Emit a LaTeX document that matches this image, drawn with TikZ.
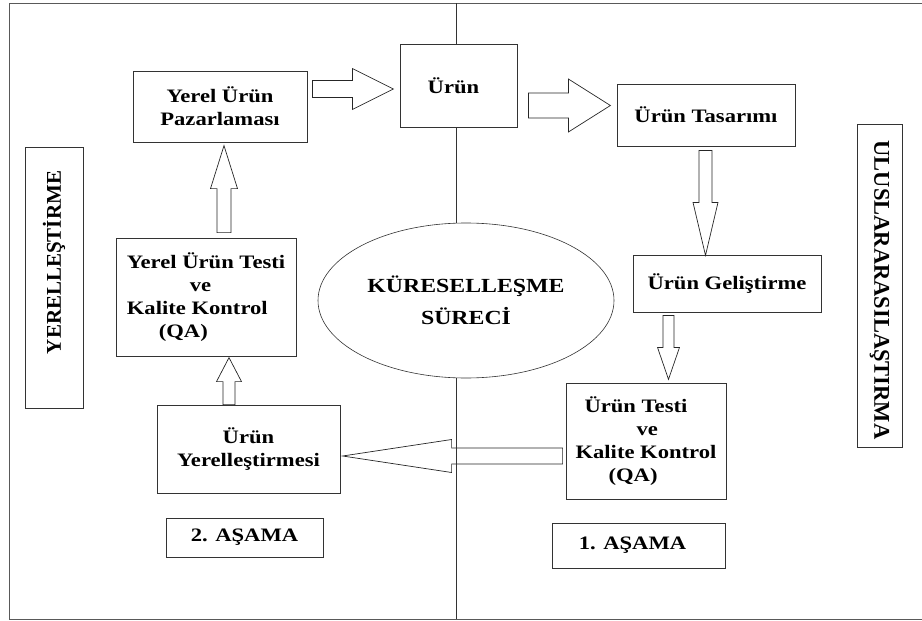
\documentclass[tikz,border=0pt]{standalone}
\usepackage{fontspec}
\setmainfont{Liberation Serif}[FakeStretch=1.19]
\newfontfamily\sidefont{Liberation Serif}
\usetikzlibrary{shapes.geometric}

% tail, angle, length, shaft half width, head half width, head length
\newcommand{\fatarrow}[6]{%
  \draw[fatline, shift={(#1)}, rotate=#2] (0,#4) -- (#3-#6,#4) -- (#3-#6,#5) -- (#3,0)
    -- (#3-#6,-#5) -- (#3-#6,-#4) -- (0,-#4) -- cycle;}

\begin{document}
\begin{tikzpicture}[x=1pt, y=-1pt,
  box/.style={draw=black!80, line width=0.8pt, fill=white, inner sep=0pt, align=center,
    font=\bfseries\fontsize{19}{23}\selectfont},
  sidebox/.style={box, font=\sidefont\bfseries\fontsize{#1}{24}\selectfont},
  fatline/.style={draw=black!85, line width=0.7pt, fill=white, line join=miter},
  frame/.style={draw=black!65, line width=1pt}]
\useasboundingbox (0,0) rectangle (922,621);
\draw[frame] (922,3) -- (9,3) -- (9,619) -- (922,619);

% boxes
\node[box, minimum width=117pt, minimum height=83pt] (urun) at (458.5,85.5) {Ürün\hspace*{10pt}};
\node[box, minimum width=174pt, minimum height=71pt] (pazar) at (220,106.5) {Yerel Ürün\\Pazarlaması};
\node[box, minimum width=178pt, minimum height=62pt] (tasarim) at (706,115) {Ürün Tasarımı};
\node[box, minimum width=188pt, minimum height=57pt] (gelis) at (727,283.5) {Ürün Geliştirme};
\node[box, minimum width=160pt, minimum height=116pt, align=left] (testi) at (646,441)
  {\hspace*{9pt}Ürün Testi\\\hspace*{61pt}ve\\Kalite Kontrol\\\hspace*{33pt}(QA)};
\node[box, minimum width=180pt, minimum height=118pt, align=left] (yertest) at (206,297)
  {Yerel Ürün Testi\\\hspace*{63pt}ve\\Kalite Kontrol\\\hspace*{32pt}(QA)};
\node[box, minimum width=183pt, minimum height=88pt] (yerles) at (248.5,449) {Ürün\\Yerelleştirmesi};
\node[box, minimum width=157pt, minimum height=39pt] (asama2) at (244.5,537.5) {2. AŞAMA};
\node[box, minimum width=173pt, minimum height=45pt] (asama1) at (638.5,545.5) {1. AŞAMA\hspace*{12pt}};
\node[sidebox=21, rotate=90, minimum width=261pt, minimum height=58pt] (yerel) at (54,277.5)
  {\hspace*{30pt}YERELLEŞTİRME};
\node[sidebox=22.5, rotate=-90, minimum width=323pt, minimum height=45pt] (ulus) at (879.5,285.5)
  {\hspace*{9pt}ULUSLARARASILAŞTIRMA};
\node[box, ellipse, line width=0.6pt, minimum width=296pt, minimum height=155pt,
  font=\bfseries\fontsize{20}{32}\selectfont] (surec) at (466,300.5) {KÜRESELLEŞME\\SÜRECİ};

% block arrows
\fatarrow{[xshift=5pt,yshift=17.5pt]pazar.east}{0}{81}{8.5}{20.5}{41}
\fatarrow{[xshift=11pt,yshift=-20pt]urun.east}{0}{82}{12.5}{26.5}{42}
\fatarrow{[xshift=-0.5pt,yshift=-4pt]tasarim.south}{-90}{105}{6.5}{12.5}{53}
\fatarrow{[xshift=-58.5pt,yshift=-3pt]gelis.south}{-90}{64}{5.5}{11}{32}
\fatarrow{[xshift=-3pt,yshift=-15pt]testi.west}{180}{220}{8}{16.5}{109}
\fatarrow{[xshift=-19.5pt]yerles.north}{90}{47}{6}{12.5}{24}
\fatarrow{[xshift=18pt,yshift=5pt]yertest.north}{90}{87}{7}{13.5}{43}

% middle line
\coordinate (mtop) at (456,3);
\coordinate (mbot) at (456,619);
\draw[black!80, line width=0.8pt] (mtop) -- (mtop |- urun.north);
\draw[black!80, line width=0.8pt] (mtop |- urun.south) -- (mtop |- surec.north);
\draw[black!80, line width=0.8pt] (mtop |- surec.south) -- (mbot);
\end{tikzpicture}
\end{document}
